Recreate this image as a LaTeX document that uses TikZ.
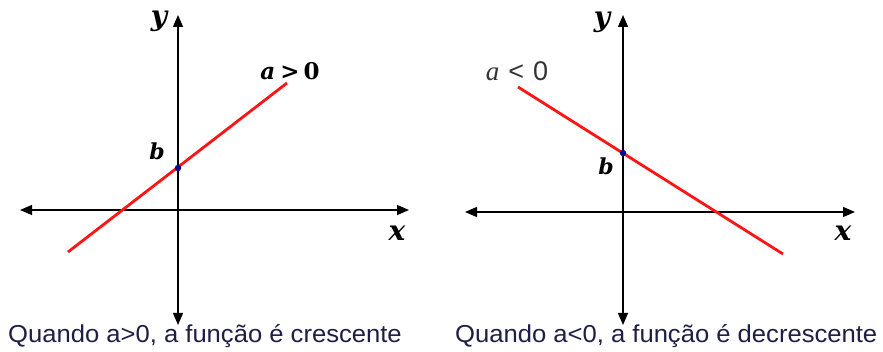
\documentclass[tikz,border=0pt]{standalone}
\usepackage{fontspec}
\setmainfont{Liberation Serif}
\newfontfamily\capfont{Liberation Sans}
\newfontfamily\labfont{DejaVu Serif}
\usetikzlibrary{arrows.meta}
\definecolor{capcol}{RGB}{30,30,70}
\definecolor{redline}{RGB}{255,20,20}
\definecolor{dotblue}{RGB}{10,10,140}
\tikzset{
  axis/.style={line width=1.3pt,{Triangle[length=12pt,width=10pt]}-{Triangle[length=12pt,width=10pt]}},
  graphline/.style={redline,line width=2.8pt},
  bdot/.style={circle,fill=dotblue,inner sep=0pt,minimum size=6.5pt},
  axlabel/.style={inner sep=0pt,font=\fontsize{28}{28}\selectfont\labfont\bfseries\itshape},
  blabel/.style={inner sep=0pt,font=\fontsize{22}{22}\selectfont\labfont\bfseries\itshape},
  caption/.style={inner sep=0pt,anchor=base west,text=capcol,font=\fontsize{24.5}{28}\selectfont\capfont}
}
\begin{document}
\begin{tikzpicture}[x=1pt,y=-1pt]
\useasboundingbox[fill=white] (0,0) rectangle (883,352);
% left panel
\coordinate (Lxl) at (20,210);
\coordinate (Lxr) at (409,210);
\coordinate (Lyt) at (178,15);
\coordinate (Lyb) at (178,325);
\coordinate (Lr1) at (68,252);
\coordinate (Lr2) at (287,83);
\draw[axis] (Lxl) -- (Lxr);
\draw[axis] (Lyb) -- (Lyt);
\draw[graphline] (Lr1) -- (Lr2);
\node[bdot] (Lb) at (178,168) {};
\node[axlabel] (Ly) at (159,21) {y};
\node[axlabel] (Lx) at (397,233) {x};
\node[blabel] (Lbl) at (157,151) {b};
\node[inner sep=0pt,font=\fontsize{23}{23}\selectfont\labfont\bfseries] (La) at (290,71) {\textit{a}\hspace{5pt}>\hspace{4pt}0};
\node[caption] (Lcap) at (8,343) {\scalebox{1.045}[1]{Quando a>0, a função é crescente}};
% right panel
\coordinate (Rxl) at (465,212);
\coordinate (Rxr) at (855,212);
\coordinate (Ryt) at (623,15);
\coordinate (Ryb) at (623,325);
\coordinate (Rr1) at (518,87);
\coordinate (Rr2) at (783,254);
\draw[axis] (Rxl) -- (Rxr);
\draw[axis] (Ryb) -- (Ryt);
\draw[graphline] (Rr1) -- (Rr2);
\node[bdot] (Rb) at (623,153) {};
\node[axlabel] (Ry) at (602,22) {y};
\node[axlabel] (Rx) at (843,233) {x};
\node[blabel] (Rbl) at (606,166) {b};
\node[inner sep=0pt,text=black!80,font=\fontsize{27}{27}\selectfont] (Ra) at (517,71) {\textit{a}\hspace{9pt}{\capfont <\hspace{9pt}0}};
\node[caption] (Rcap) at (455,343) {\scalebox{1.045}[1]{Quando a<0, a função é decrescente}};
\end{tikzpicture}
\end{document}
